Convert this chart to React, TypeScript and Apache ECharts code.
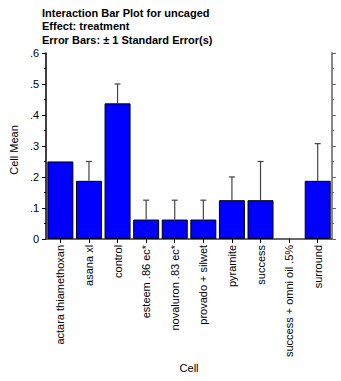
import React, { useEffect, useRef } from "react";
import * as echarts from "echarts";

const categories = [
  "actara thiamethoxan",
  "asana xl",
  "control",
  "esteem .86 ec*",
  "novaluron .83 ec*",
  "provado + silwet",
  "pyramite",
  "success",
  "success + omni oil .5%",
  "surround",
];
const cellMeans = [0.25, 0.1875, 0.4375, 0.0625, 0.0625, 0.0625, 0.125, 0.125, 0, 0.1875];
const standardErrors = [0, 0.0625, 0.0625, 0.0625, 0.0625, 0.0625, 0.075, 0.125, 0, 0.12];
const titleLines = [
  "Interaction Bar Plot for uncaged",
  "Effect: treatment",
  "Error Bars: ± 1 Standard Error(s)",
];

const FONT = "Liberation Sans, Arial, sans-serif";

export default function App() {
  const ref = useRef<HTMLDivElement>(null);

  useEffect(() => {
    if (!ref.current) return;
    const chart = echarts.init(ref.current, null, { renderer: "svg" });

    const errorData = cellMeans.map((m, i) => [i, m, m + standardErrors[i]]);
    // an empty cell gets no outline, so nothing shows at zero
    const barData = cellMeans.map((v) =>
      v === 0 ? { value: v, itemStyle: { borderWidth: 0 } } : v
    );

    chart.setOption({
      animation: false,
      backgroundColor: "#fff",
      title: {
        text: titleLines.join("\n"),
        left: 42,
        top: 6,
        padding: 0,
        textStyle: {
          fontFamily: FONT,
          fontSize: 11,
          fontWeight: "bold",
          lineHeight: 13.5,
          color: "#000",
        },
      },
      grid: { left: 42, right: 9, top: 53, bottom: 134, containLabel: false },
      xAxis: [
        {
          type: "category",
          data: categories,
          position: "bottom",
          name: "Cell",
          nameLocation: "middle",
          nameGap: 124,
          nameTextStyle: { fontFamily: FONT, fontSize: 11, color: "#000" },
          axisLine: { lineStyle: { color: "#000", width: 1.5 } },
          axisTick: { show: true, alignWithLabel: true, length: 4, lineStyle: { color: "#000" } },
          axisLabel: {
            rotate: 90,
            margin: 6,
            fontFamily: FONT,
            fontSize: 11,
            color: "#000",
            interval: 0,
          },
        },
        {
          type: "category",
          data: categories,
          position: "top",
          axisLine: { lineStyle: { color: "#777", width: 1.5 } },
          axisTick: { show: true, inside: true, alignWithLabel: true, length: 3, lineStyle: { color: "#000" } },
          axisLabel: { show: false },
        },
      ],
      yAxis: [
        {
          type: "value",
          min: 0,
          max: 0.6,
          interval: 0.1,
          position: "left",
          name: "Cell Mean",
          nameLocation: "middle",
          nameGap: 22,
          nameTextStyle: { fontFamily: FONT, fontSize: 11, color: "#000", padding: [0, 8, 0, 0] },
          axisLine: { show: true, lineStyle: { color: "#000", width: 1.5 } },
          axisTick: { show: true, length: 4, lineStyle: { color: "#000" } },
          minorTick: { show: true, splitNumber: 2, length: 2, lineStyle: { color: "#000" } },
          splitLine: { show: false },
          axisLabel: {
            margin: 7,
            fontFamily: FONT,
            fontSize: 11,
            color: "#000",
            formatter: (v: number) => (v === 0 ? "0" : v.toFixed(1).replace(/^0/, "")),
          },
        },
        {
          type: "value",
          min: 0,
          max: 0.6,
          interval: 0.1,
          position: "right",
          axisLine: { show: true, lineStyle: { color: "#888", width: 2 } },
          axisTick: { show: true, length: 4, lineStyle: { color: "#666" } },
          minorTick: { show: true, splitNumber: 2, length: 2, lineStyle: { color: "#666" } },
          splitLine: { show: false },
          axisLabel: { show: false },
        },
      ],
      series: [
        {
          type: "bar",
          data: barData,
          barWidth: 26,
          itemStyle: { color: "#0000ff", borderColor: "#000", borderWidth: 1 },
          z: 2,
        },
        {
          type: "custom",
          data: errorData,
          z: 3,
          renderItem: (params: any, api: any) => {
            const i = api.value(0);
            const lo = api.value(1);
            const hi = api.value(2);
            if (hi <= lo) return null;
            const p0 = api.coord([i, lo]);
            const p1 = api.coord([i, hi]);
            const cap = 3;
            const style = { stroke: "#444", lineWidth: 1.2 };
            return {
              type: "group",
              children: [
                { type: "line", shape: { x1: p0[0], y1: p0[1], x2: p1[0], y2: p1[1] }, style },
                { type: "line", shape: { x1: p1[0] - cap, y1: p1[1], x2: p1[0] + cap, y2: p1[1] }, style },
              ],
            };
          },
        },
      ],
    });

    return () => chart.dispose();
  }, []);

  return (
    <div
      ref={ref}
      style={{ position: "absolute", left: 0, top: 0, width: 341, height: 381 }}
    />
  );
}
